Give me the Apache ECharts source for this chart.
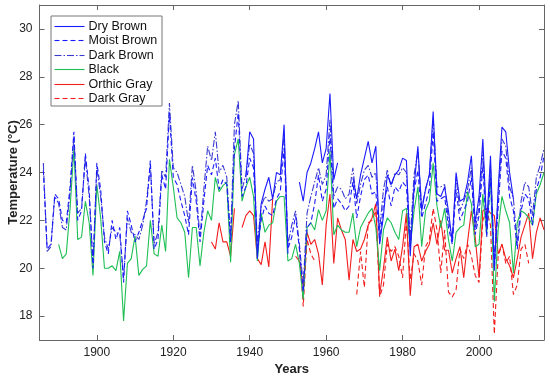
<!DOCTYPE html>
<html>
<head>
<meta charset="utf-8">
<script src="https://cdn.jsdelivr.net/npm/echarts@6/dist/echarts.min.js"></script>
<style>
html,body{margin:0;padding:0;background:#fff;}
#c{width:550px;height:377px;}
</style>
</head>
<body>
<div id="c"></div>
<script>
const firstYear = 1886, lastYear = 2017;
const xTicks = [1900, 1920, 1940, 1960, 1980, 2000];
const yTicks = [18, 20, 22, 24, 26, 28, 30];
const seriesNames = ['Dry Brown', 'Moist Brown', 'Dark Brown', 'Black', 'Orthic Gray', 'Dark Gray'];
const N = null;

const dryBrown = [
  N,N,N,N,
  N,N,N,N,N,N,N,N,N,N,
  N,N,N,N,N,N,N,N,N,N,
  N,N,N,N,N,N,N,N,N,N,
  N,N,N,N,N,N,N,N,N,N,
  N,N,N,N,N,N,N,N,N,23.8,
  25.7,25.4,20.4,22.7,23.3,23.8,22.9,24.0,23.9,26.0,
  20.6,N,N,23.6,22.8,24.0,24.4,25.0,25.7,24.4,
  25.0,27.3,23.7,24.4,N,N,N,23.8,22.9,23.9,
  24.6,25.3,24.4,25.1,21.0,22.2,23.9,23.5,23.9,24.1,
  24.6,24.5,20.5,23.4,25.1,22.4,23.3,23.9,26.55,23.1,
  23.0,23.4,22.4,21.1,24.0,22.8,22.9,23.6,24.7,21.9,
  23.0,25.4,21.8,24.7,19.9,23.3,25.9,25.7,24.0,22.9,
  N,N,N,N,N,N,N,N
];
const moistBrown = [
  24.1,20.8,21.0,23.1,
  22.9,22.0,21.9,23.4,25.7,22.0,22.4,24.8,23.3,20.0,
  24.4,23.3,21.1,20.6,22.0,21.2,21.7,19.4,22.4,21.8,
  21.1,21.5,22.0,22.5,24.5,20.8,21.2,23.9,23.3,26.5,
  23.8,23.5,22.8,22.2,21.4,23.8,22.8,21.1,22.8,24.3,
  23.9,24.6,23.3,23.7,23.5,21.1,25.0,26.5,23.0,23.4,
  24.6,24.2,20.8,22.0,22.6,22.3,22.2,22.9,23.2,25.0,
  20.8,21.3,22.2,20.8,19.0,21.7,21.9,22.7,23.9,22.8,
  23.3,25.6,22.5,22.9,22.7,22.4,22.6,23.6,22.1,23.0,
  23.7,23.9,23.1,23.2,21.1,22.7,23.4,22.6,23.4,23.2,
  23.6,23.4,20.9,23.2,24.1,22.1,22.7,23.3,25.7,22.8,
  22.9,23.0,21.7,21.0,23.3,22.0,22.4,22.8,23.8,21.4,
  22.2,24.3,21.3,23.8,20.0,22.5,24.9,24.6,23.0,22.4,
  20.8,22.4,23.1,22.9,21.8,23.3,23.8,24.7
];
const darkBrown = [
  24.4,20.7,20.9,23.0,
  22.7,21.7,21.6,23.2,25.5,22.3,22.5,24.6,23.0,20.2,
  24.2,23.0,21.3,20.8,21.7,21.5,21.4,19.6,22.1,21.5,
  21.4,21.2,21.8,22.8,24.3,21.0,21.5,24.1,23.8,26.9,
  24.2,24.0,23.5,23.0,21.9,24.3,23.2,21.3,23.3,25.1,
  24.5,25.7,24.0,24.3,23.8,21.3,26.0,27.0,23.3,23.9,
  25.2,24.8,21.0,22.6,23.0,22.8,22.9,23.6,23.7,25.6,
  21.0,21.8,22.4,21.0,19.3,22.3,23.0,23.6,24.2,23.5,
  23.9,26.2,23.0,23.4,23.3,22.9,23.1,24.2,22.7,23.5,
  24.1,24.3,23.8,24.0,21.6,23.3,24.1,23.4,24.0,23.9,
  24.2,24.0,21.2,23.9,24.9,22.5,23.3,23.9,26.3,23.4,
  23.4,23.5,22.0,21.2,23.8,22.4,22.8,23.3,24.2,21.6,
  22.6,24.9,21.6,24.3,20.3,23.0,25.4,25.1,23.4,22.9,
  21.0,22.8,23.6,23.4,22.2,23.8,24.3,25.0
];
const black = [
  N,N,N,N,
  21.0,20.4,20.6,22.5,25.0,21.2,21.3,22.8,21.9,19.7,
  23.5,22.1,20.0,20.0,20.1,19.9,20.7,17.8,20.2,20.4,
  21.35,19.7,19.95,20.1,22.0,20.6,20.5,21.8,20.7,24.55,
  23.4,22.1,21.9,21.5,19.6,21.7,21.7,20.1,21.5,22.4,
  22.0,23.8,23.2,23.45,23.6,20.25,24.75,25.4,22.8,23.4,
  23.8,23.0,20.3,22.3,21.5,21.8,21.9,22.8,23.0,23.0,
  20.3,20.4,21.0,20.2,18.7,21.7,21.9,21.6,22.45,22.0,
  22.4,24.9,21.4,21.8,21.6,21.5,21.5,22.3,20.9,21.7,
  22.0,22.3,22.5,21.7,19.9,21.6,22.1,21.9,21.5,21.2,
  22.4,22.5,20.9,22.4,23.4,20.9,22.4,22.8,24.4,22.6,
  21.7,22.5,21.2,20.3,21.5,21.7,21.8,23.2,22.7,20.9,
  21.0,23.1,21.4,23.9,18.6,21.6,23.0,22.4,21.9,19.8,
  21.9,22.4,22.3,22.1,21.8,23.1,23.5,24.0
];
const orthicGray = [
  N,N,N,N,
  N,N,N,N,N,N,N,N,N,N,
  N,N,N,N,N,N,N,N,N,N,
  N,N,N,N,N,N,N,N,N,N,
  N,N,N,N,N,N,N,N,N,N,
  21.1,20.8,21.9,21.1,21.1,20.5,22.5,N,21.7,22.2,
  22.4,22.2,20.4,20.15,21.1,20.05,22.9,N,N,N,
  N,N,20.5,20.3,19.2,21.5,21.0,21.2,20.6,19.3,
  21.8,23.1,20.2,22.1,21.6,21.2,19.5,21.2,20.7,20.8,
  21.2,21.8,22.1,22.7,18.9,20.0,21.3,20.3,20.8,19.9,
  20.9,22.3,18.85,20.9,21.0,20.3,20.7,21.0,21.9,21.0,
  22.0,20.75,20.75,19.8,20.4,20.9,19.6,21.1,22.4,21.3,
  19.6,22.4,22.5,22.3,22.2,20.6,21.0,20.4,20.1,19.6,
  20.4,21.3,21.8,22.3,20.4,21.5,22.1,21.6
];
const darkGray = [
  N,N,N,N,
  N,N,N,N,N,N,N,N,N,N,
  N,N,N,N,N,N,N,N,N,N,
  N,N,N,N,N,N,N,N,N,N,
  N,N,N,N,N,N,N,N,N,N,
  N,N,N,N,N,N,N,N,N,N,
  N,N,N,N,N,N,N,N,N,N,
  N,N,N,20.9,18.4,21.2,20.6,20.3,N,N,
  N,N,N,N,N,N,N,N,18.9,20.7,
  19.2,21.9,22.0,22.4,18.8,19.3,21.0,20.7,20.9,20.5,
  19.6,22.0,19.5,20.6,20.3,19.3,20.9,21.2,22.5,21.6,
  19.8,21.6,19.0,18.8,19.1,20.8,20.4,21.0,20.5,19.7,
  19.4,22.0,22.4,21.8,17.25,20.5,21.0,20.2,20.5,18.9,
  19.3,20.8,21.0,20.2,N,N,N,N
];

const years = [];
for (let y = firstYear; y <= lastYear; y++) years.push(y);
const toPairs = arr => years.map((yr, i) => [yr, arr[i] == null ? '-' : arr[i]]);

const blue = '#1a1aff';
const green = '#1fbf55';
const red = '#f21d1d';
const styles = [
  { color: blue, type: 'solid', dash: null },
  { color: blue, type: [5, 3], dash: [5, 3] },
  { color: '#3a3ad0', type: [7, 2, 1.5, 2], dash: [7, 2, 1.5, 2] },
  { color: green, type: 'solid', dash: null },
  { color: red, type: 'solid', dash: null },
  { color: red, type: [5, 3], dash: [5, 3] }
];
const dataArrays = [dryBrown, moistBrown, darkBrown, black, orthicGray, darkGray];

const axisColor = '#666';
const font = 'Liberation Sans, Arial, sans-serif';

const chart = echarts.init(document.getElementById('c'), null, { renderer: 'canvas' });
const series = seriesNames.map((name, k) => ({
  name,
  type: 'line',
  xAxisIndex: 0,
  yAxisIndex: 0,
  data: toPairs(dataArrays[k]),
  showSymbol: false,
  symbol: 'none',
  connectNulls: false,
  lineStyle: { width: 1.1, color: styles[k].color, type: styles[k].type },
  itemStyle: { color: styles[k].color },
  z: 10 - k
}));

// legend box drawn with graphic elements (dashes drawn as short segments)
const legX = 50.5, legY = 15.5, legW = 111, legH = 90, rowY0 = 25.5, rowGap = 14.5;
const legendGraphics = [{
  type: 'rect', left: legX, top: legY, z: 100,
  shape: { x: 0, y: 0, width: legW, height: legH },
  style: { fill: '#fff', stroke: '#777', lineWidth: 1 }
}];
seriesNames.forEach((name, k) => {
  const y = Math.round(rowY0 + k * rowGap) + 0.5;
  const x0 = legX + 4, x1 = legX + 34;
  const dash = styles[k].dash;
  if (!dash) {
    legendGraphics.push({
      type: 'line', z: 101,
      shape: { x1: x0, y1: y, x2: x1, y2: y },
      style: { stroke: styles[k].color, lineWidth: 1.1 }
    });
  } else {
    let x = x0, j = 0;
    while (x < x1) {
      const len = dash[j % dash.length];
      if (j % 2 === 0) {
        legendGraphics.push({
          type: 'line', z: 101,
          shape: { x1: x, y1: y, x2: Math.min(x + len, x1), y2: y },
          style: { stroke: styles[k].color, lineWidth: 1.1 }
        });
      }
      x += len; j++;
    }
  }
  legendGraphics.push({
    type: 'text', z: 101, x: legX + 38, y: y,
    style: { text: name, fill: '#111', font: '12.5px ' + font, verticalAlign: 'middle' }
  });
});

chart.setOption({
  animation: false,
  backgroundColor: '#fff',
  grid: { left: 39.5, right: 6, top: 5, bottom: 37, containLabel: false, outerBoundsMode: 'none' },
  graphic: legendGraphics,
  xAxis: [{
    type: 'value', min: 1885, max: 2017, position: 'bottom',
    name: 'Years', nameLocation: 'middle', nameGap: 23, nameMoveOverlap: false,
    nameTextStyle: { fontFamily: font, fontWeight: 'bold', fontSize: 13, color: '#222' },
    axisLine: { show: true, onZero: false, lineStyle: { color: axisColor, width: 1 } },
    axisTick: { show: true, inside: true, length: 5, customValues: xTicks, lineStyle: { color: axisColor } },
    axisLabel: { customValues: xTicks, formatter: v => String(v), fontFamily: font, fontSize: 12, color: '#222', margin: 7 },
    splitLine: { show: false }
  }, {
    type: 'value', min: 1885, max: 2017, position: 'top',
    axisLine: { show: true, onZero: false, lineStyle: { color: axisColor, width: 1 } },
    axisTick: { show: true, inside: true, length: 5, customValues: xTicks, lineStyle: { color: axisColor } },
    axisLabel: { show: false },
    splitLine: { show: false }
  }],
  yAxis: [{
    type: 'value', min: 17, max: 31, position: 'left',
    name: 'Temperature (°C)', nameLocation: 'middle', nameGap: 20, nameRotate: 90, nameMoveOverlap: false,
    nameTextStyle: { fontFamily: font, fontWeight: 'bold', fontSize: 13, color: '#222' },
    axisLine: { show: true, onZero: false, lineStyle: { color: axisColor, width: 1 } },
    axisTick: { show: true, inside: true, length: 5, customValues: yTicks, lineStyle: { color: axisColor } },
    axisLabel: { customValues: yTicks, formatter: v => String(v), fontFamily: font, fontSize: 12, color: '#222', margin: 7 },
    splitLine: { show: false }
  }, {
    type: 'value', min: 17, max: 31, position: 'right',
    axisLine: { show: true, onZero: false, lineStyle: { color: axisColor, width: 1 } },
    axisTick: { show: true, inside: true, length: 5, customValues: yTicks, lineStyle: { color: axisColor } },
    axisLabel: { show: false },
    splitLine: { show: false }
  }],
  series
});
</script>
</body>
</html>
